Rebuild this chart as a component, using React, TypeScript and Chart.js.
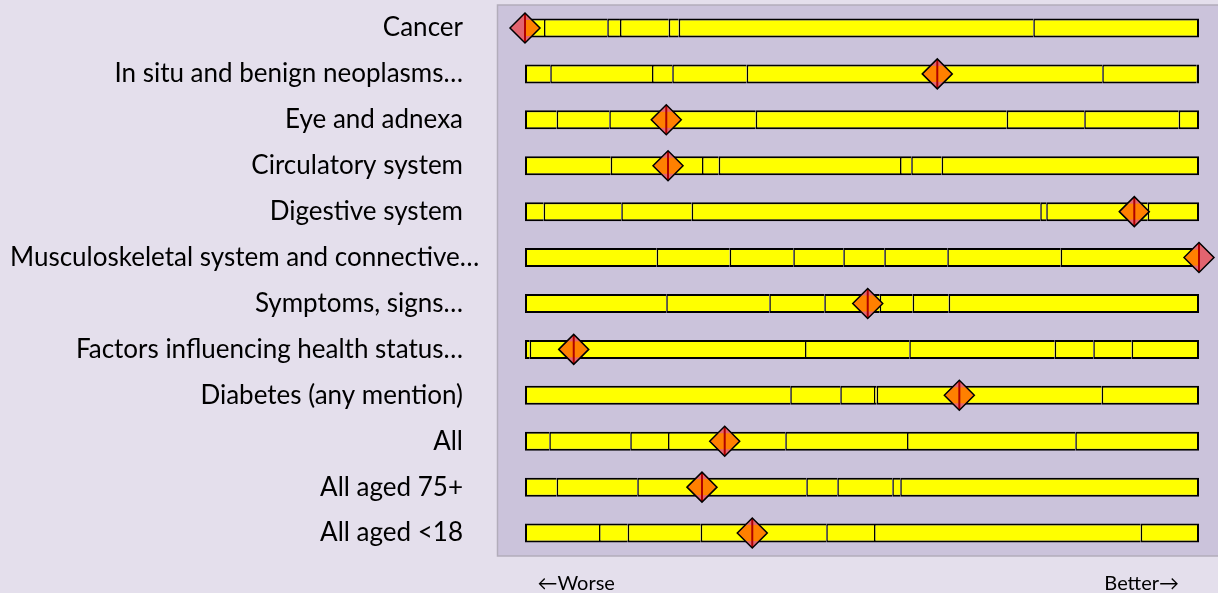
import React, { useEffect, useRef } from 'react';
import { Chart, registerables } from 'chart.js';

Chart.register(...registerables);

const categories = [
  'Cancer',
  'In situ and benign neoplasms…',
  'Eye and adnexa',
  'Circulatory system',
  'Digestive system',
  'Musculoskeletal system and connective…',
  'Symptoms, signs…',
  'Factors influencing health status…',
  'Diabetes (any mention)',
  'All',
  'All aged 75+',
  'All aged <18',
];

// Segment boundaries (0 = worst, 100 = best) for each row
const cancerBreaks = [0, 2.82, 12.21, 14.09, 21.32, 22.8, 75.42, 100];
const inSituBreaks = [0, 3.75, 18.84, 21.85, 32.89, 85.65, 99.66, 100];
const eyeBreaks = [0, 4.7, 12.51, 34.23, 71.47, 82.98, 96.99, 100];
const circulatoryBreaks = [0, 12.72, 26.26, 28.74, 55.64, 57.31, 61.82, 100];
const digestiveBreaks = [0, 2.77, 14.29, 24.73, 76.45, 77.34, 92.39, 100];
const musculoskeletalBreaks = [0, 19.54, 30.37, 39.81, 47.23, 53.31, 62.66, 79.48, 100];
const symptomsBreaks = [0, 20.96, 36.25, 44.41, 52.63, 57.52, 62.86, 100];
const factorsBreaks = [0, 0.7, 41.54, 57.02, 78.59, 84.32, 90.01, 100];
const diabetesBreaks = [0, 39.36, 46.78, 51.78, 52.18, 85.56, 100];
const allBreaks = [0, 3.61, 15.62, 21.22, 38.62, 56.68, 81.65, 100];
const aged75Breaks = [0, 4.7, 16.66, 41.74, 46.34, 54.5, 55.68, 100];
const under18Breaks = [0, 10.98, 15.24, 26.07, 44.7, 51.78, 91.35, 100];

// Diamond marker values
const markerValues = [0, 61.17, 20.96, 21.22, 90.4, 100, 50.85, 7.23, 64.44, 29.63, 26.26, 33.72];

const directionLabels = ['←Worse', 'Better→'];
const directionTickValues = [7.6, 91.5];

const rowBreaks = [
  cancerBreaks,
  inSituBreaks,
  eyeBreaks,
  circulatoryBreaks,
  digestiveBreaks,
  musculoskeletalBreaks,
  symptomsBreaks,
  factorsBreaks,
  diabetesBreaks,
  allBreaks,
  aged75Breaks,
  under18Breaks,
];

const LABEL_FONT = '26px Lato';

function makeOrangeMarker(): HTMLCanvasElement {
  const c = document.createElement('canvas');
  c.width = 30;
  c.height = 30;
  const g = c.getContext('2d')!;
  g.beginPath();
  g.rect(0, 7, 30, 16);
  g.clip();
  g.beginPath();
  g.moveTo(0.5, 15);
  g.lineTo(15, 0.5);
  g.lineTo(29.5, 15);
  g.lineTo(15, 29.5);
  g.closePath();
  g.fillStyle = '#FF8000';
  g.fill();
  return c;
}

const bgPlugin = {
  id: 'bgPlugin',
  beforeDraw(chart: any) {
    const { ctx, chartArea, width, height } = chart;
    ctx.save();
    ctx.fillStyle = '#E4DFEC';
    ctx.fillRect(0, 0, width, height);
    const left = chartArea.left - 27.5;
    ctx.fillStyle = '#CBC3DB';
    ctx.fillRect(left, chartArea.top, width - left, chartArea.bottom - chartArea.top);
    ctx.strokeStyle = '#B2ADBA';
    ctx.lineWidth = 1.5;
    ctx.beginPath();
    ctx.moveTo(width, chartArea.top);
    ctx.lineTo(left, chartArea.top);
    ctx.lineTo(left, chartArea.bottom);
    ctx.lineTo(width, chartArea.bottom);
    ctx.stroke();
    ctx.restore();
  },
};

const yLabelPlugin = {
  id: 'yLabelPlugin',
  afterDraw(chart: any) {
    const { ctx, chartArea, scales } = chart;
    ctx.save();
    ctx.font = LABEL_FONT;
    ctx.fillStyle = '#000000';
    ctx.textAlign = 'left';
    ctx.textBaseline = 'middle';
    categories.forEach((lab, i) => {
      const y = scales.y.getPixelForValue(i);
      const w = ctx.measureText(lab).width;
      let x = chartArea.left - 62 - w;
      if (x < 10) x = 10;
      ctx.fillText(lab, x, y);
    });
    ctx.restore();
  },
};

export default function App() {
  const canvasRef = useRef<HTMLCanvasElement | null>(null);

  useEffect(() => {
    if (!canvasRef.current) return;
    const maxSeg = Math.max(...rowBreaks.map((b) => b.length - 1));
    const segDatasets: any[] = Array.from({ length: maxSeg }, (_, k) => ({
      type: 'bar',
      label: 'seg' + k,
      indexAxis: 'y',
      data: rowBreaks.map((b) => (k < b.length - 1 ? [b[k], b[k + 1]] : null)),
      backgroundColor: '#FFFF00',
      borderColor: '#000000',
      borderWidth: (ctx: any) => {
        const b = rowBreaks[ctx.dataIndex];
        const last = k === b.length - 2;
        return { top: 2, bottom: 2, left: k === 0 ? 2 : 1.5, right: last ? 2 : 0 };
      },
      borderSkipped: false,
      inflateAmount: 0,
      grouped: false,
      barThickness: 19,
      order: 10,
    }));

    const markerPoints = markerValues.map((v, i) => ({ x: v, y: categories[i] }));
    const orangeImg = makeOrangeMarker();

    const markerDatasets: any[] = [
      {
        type: 'scatter',
        label: 'pink',
        data: markerPoints,
        pointStyle: 'rectRot',
        pointRadius: 15,
        pointBackgroundColor: '#E3646F',
        pointBorderColor: 'rgba(0,0,0,0)',
        pointBorderWidth: 0,
        clip: false,
        order: 4,
      },
      {
        type: 'scatter',
        label: 'orange',
        data: markerPoints,
        pointStyle: orangeImg,
        pointRadius: 15,
        clip: 0,
        order: 3,
      },
      {
        type: 'scatter',
        label: 'line',
        data: markerPoints,
        pointStyle: 'line',
        pointRotation: 90,
        pointRadius: 14,
        pointBorderColor: '#B00000',
        pointBorderWidth: 2,
        clip: false,
        order: 2,
      },
      {
        type: 'scatter',
        label: 'outline',
        data: markerPoints,
        pointStyle: 'rectRot',
        pointRadius: 15,
        pointBackgroundColor: 'rgba(0,0,0,0)',
        pointBorderColor: '#000000',
        pointBorderWidth: 1.5,
        clip: false,
        order: 1,
      },
    ];

    const chart = new Chart(canvasRef.current, {
      type: 'bar',
      data: {
        labels: categories,
        datasets: [...segDatasets, ...markerDatasets],
      },
      plugins: [bgPlugin, yLabelPlugin],
      options: {
        animation: false,
        responsive: true,
        maintainAspectRatio: false,
        indexAxis: 'y',
        layout: { autoPadding: false, padding: { left: 0, right: 19, top: 5, bottom: 0 } },
        events: [],
        plugins: {
          legend: { display: false },
          tooltip: { enabled: false },
        },
        scales: {
          x: {
            type: 'linear',
            min: 0,
            max: 100,
            grid: { display: false, drawTicks: false },
            border: { display: false },
            afterBuildTicks: (scale: any) => {
              scale.ticks = directionTickValues.map((v) => ({ value: v }));
            },
            afterFit: (scale: any) => {
              scale.height = 37;
              scale.paddingLeft = 0;
              scale.paddingRight = 0;
            },
            ticks: {
              autoSkip: false,
              maxRotation: 0,
              padding: 16,
              color: '#000000',
              font: { family: 'Lato', size: 20 },
              callback: (_v: any, i: number) => directionLabels[i],
            },
          },
          y: {
            type: 'category',
            labels: categories,
            offset: true,
            grid: { display: false, drawTicks: false },
            border: { display: false },
            ticks: { display: false },
            afterFit: (scale: any) => {
              scale.width = 525;
              scale.paddingTop = 0;
              scale.paddingBottom = 0;
            },
          },
        },
      } as any,
    });
    return () => chart.destroy();
  }, []);

  return (
    <div
      style={{
        position: 'fixed',
        left: 0,
        top: 0,
        width: 1218,
        height: 593,
        background: '#E4DFEC',
      }}
    >
      <canvas ref={canvasRef} />
    </div>
  );
}
